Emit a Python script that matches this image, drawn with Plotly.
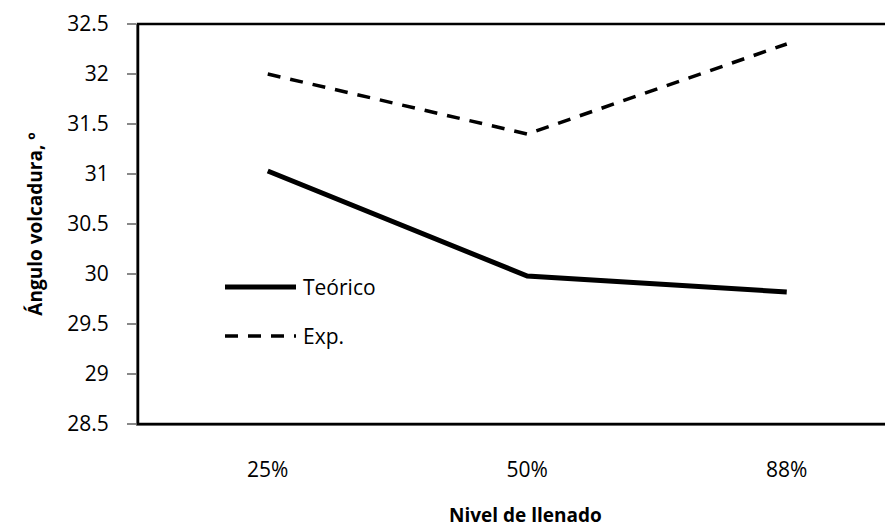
import plotly.graph_objects as go

categories = ["25%", "50%", "88%"]
teorico = [31.03, 29.98, 29.82]
exp_vals = [32.0, 31.4, 32.3]
y_ticks = [28.5, 29, 29.5, 30, 30.5, 31, 31.5, 32, 32.5]
y_tick_labels = ["28.5", "29", "29.5", "30", "30.5", "31", "31.5", "32", "32.5"]

FONT = "Open Sans"
W, H = 893, 527
L, T, B = 130, 16, 111
plot_w = W - L
band = 259.5  # px per category

fig = go.Figure()
fig.add_trace(go.Scatter(x=categories, y=teorico, mode="lines", name="Teórico",
                         line=dict(color="black", width=5), showlegend=False))
fig.add_trace(go.Scatter(x=categories, y=exp_vals, mode="lines", name="Exp.",
                         line=dict(color="black", width=3.5, dash="13px,10px"), showlegend=False))

# plot frame (open on the right, as in the reference crop)
fig.add_shape(type="rect", xref="paper", yref="paper", x0=0, x1=1.05, y0=0, y1=1,
              line=dict(color="black", width=2.5), layer="above")

# manual legend (long line samples)
leg_x0, leg_x1, txt_x = (217 - L) / plot_w, (288 - L) / plot_w, (293 - L) / plot_w
leg_items = [("Teórico", (416 - 279) / 400, dict(color="black", width=5)),
             ("Exp.", (416 - 328) / 400, dict(color="black", width=3.5, dash="13px,10px"))]
for name, yy, ln in leg_items:
    fig.add_shape(type="line", xref="paper", yref="paper", x0=leg_x0, x1=leg_x1, y0=yy, y1=yy, line=ln)
    fig.add_annotation(xref="paper", yref="paper", x=txt_x, y=yy, text=name, showarrow=False,
                       xanchor="left", yanchor="middle", font=dict(family=FONT, size=21, color="black"))

fig.add_annotation(xref="paper", yref="paper", x=(517 - L) / plot_w, y=-(507 - 416) / 400,
                   text="<b>Nivel de llenado</b>", showarrow=False, xanchor="center", yanchor="middle",
                   font=dict(family=FONT, size=19, color="black"))

fig.update_layout(
    width=W, height=H,
    margin=dict(l=L, r=0, t=T, b=B),
    paper_bgcolor="white", plot_bgcolor="white",
    font=dict(family=FONT, size=21, color="black"),
    xaxis=dict(type="category", range=[-0.5, -0.5 + plot_w / band], showgrid=False,
               showline=True, linecolor="#888888", linewidth=2, ticks="", zeroline=False,
               tickfont=dict(family=FONT, size=21), ticklabelstandoff=26),
    yaxis=dict(range=[28.5, 32.5], tickvals=y_ticks, ticktext=y_tick_labels, showgrid=False,
               showline=True, linecolor="#888888", linewidth=2, ticks="outside", ticklen=9,
               tickcolor="#888888", tickwidth=2, zeroline=False,
               tickfont=dict(family=FONT, size=21), ticklabelstandoff=14,
               title=dict(text="<b>Ángulo volcadura, º</b>", font=dict(family=FONT, size=19), standoff=20)),
)

fig.write_html("out.html")
